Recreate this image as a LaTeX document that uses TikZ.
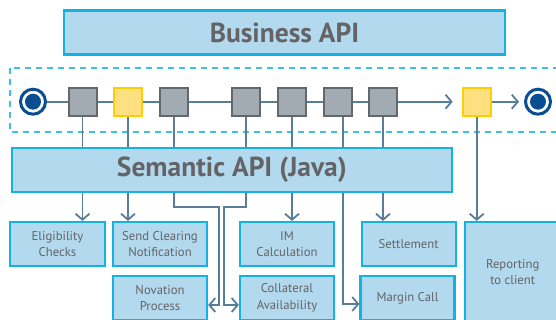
\documentclass[tikz,border=0pt]{standalone}
\usepackage{fontspec}
\setmainfont{PT Sans}
\usetikzlibrary{arrows.meta}

\definecolor{boxfill}{RGB}{178,217,238}
\definecolor{boxline}{RGB}{20,178,226}
\definecolor{txtgray}{RGB}{100,100,102}
\definecolor{wire}{RGB}{88,125,152}
\definecolor{actgray}{RGB}{162,170,178}
\definecolor{actline}{RGB}{100,104,108}
\definecolor{actyel}{RGB}{254,224,128}
\definecolor{yelline}{RGB}{255,206,0}
\definecolor{endblue}{RGB}{10,78,146}
\definecolor{dashcyan}{RGB}{60,192,232}

\tikzset{
  api/.style={draw=boxline, fill=boxfill, line width=2.2pt, text=txtgray,
    font=\fontsize{27.5}{30}\selectfont\bfseries, minimum height=44pt, inner sep=0pt},
  task/.style={draw=boxline, fill=boxfill, line width=2.2pt, text=txtgray,
    font=\fontsize{12.7}{16.5}\selectfont, align=center, minimum width=94pt,
    minimum height=44pt, inner sep=0pt},
  act/.style={draw=actline, fill=actgray, line width=2pt, minimum size=28pt, inner sep=0pt},
  actmark/.style={act, draw=yelline, fill=actyel},
  ends/.style={circle, draw=endblue, fill=white, line width=3pt, minimum size=25pt, inner sep=0pt},
  wirel/.style={draw=wire, line width=1.8pt},
  flow/.style={-{Straight Barb[length=6pt,width=14pt]}}
}

\begin{document}
\begin{tikzpicture}[x=1pt, y=-1pt]
  \useasboundingbox (0,0) rectangle (556,320);
  \clip (0,0) rectangle (556,320);

  % the two API layers
  \node[api, minimum width=441pt] (biz) at (284.5,32.6) {Business API};
  \draw[dashcyan, line width=1.5pt, dash pattern=on 6pt off 5pt] (10,68) rectangle (600,132);
  \node[api, minimum width=440pt] (sem) at (231.9,170) {Semantic API (Java)};

  % the process chain
  \node[ends] (init) at (33,101.7) {};
  \fill[endblue] (init) circle[radius=8pt];
  \node[ends] (fin) at (538,101.7) {};
  \fill[endblue] (fin) circle[radius=8pt];
  \foreach \n/\x in {1/82.5,3/174,4/246,5/292,6/337.7,7/383}
    \node[act] (t\n) at (\x,101.7) {};
  \node[actmark] (t2) at (128,101.7) {};
  \node[actmark] (t8) at (476.7,101.7) {};
  \coordinate (t6d) at ([xshift=5pt]t6.south);

  \draw[wirel] (init) -- (t1) -- (t2) -- (t3) -- (t4) -- (t5) -- (t6) -- (t7);
  \draw[wirel, flow, shorten >=9pt] (t7) -- (t8);
  \draw[wirel, flow, shorten >=5pt] (t8) -- (fin);

  \foreach \n in {1,2,3,4,5,7}
    \draw[wirel] (t\n) -- (t\n |- sem.north);
  \draw[wirel] (t6d) -- (t6d |- sem.north);

  % the services
  \node[task, minimum width=95pt] (elig) at (57.5,244) {Eligibility\\Checks};
  \node[task] (clear) at (160,244) {Send Clearing\\Notification};
  \node[task] (im) at (287,244) {IM\\Calculation};
  \node[task] (settle) at (408.7,244) {Settlement};
  \node[task, minimum width=95pt, minimum height=100pt] (report) at (512.7,272) {Reporting\\to client};
  \node[task] (novat) at (160,298) {Novation\\Process};
  \node[task] (coll) at (287,298) {Collateral\\Availability};
  \node[task] (margin) at (407.5,298) {Margin Call};

  \foreach \n/\b in {1/elig,2/clear,5/im,7/settle}
    \draw[wirel, flow] (t\n |- sem.south) -- (t\n |- \b.north);
  \draw[wirel, flow] (t8) -- (t8 |- report.north);
  \draw[wirel, flow] (t3 |- sem.south) |- (219.3,207) |- (novat.east |- 0,305);
  \draw[wirel, flow] (t4 |- sem.south) |- (224,207) |- (coll.west |- 0,305);
  \draw[wirel, flow] (t6d |- sem.south) |- (margin.west |- 0,304);
\end{tikzpicture}
\end{document}
